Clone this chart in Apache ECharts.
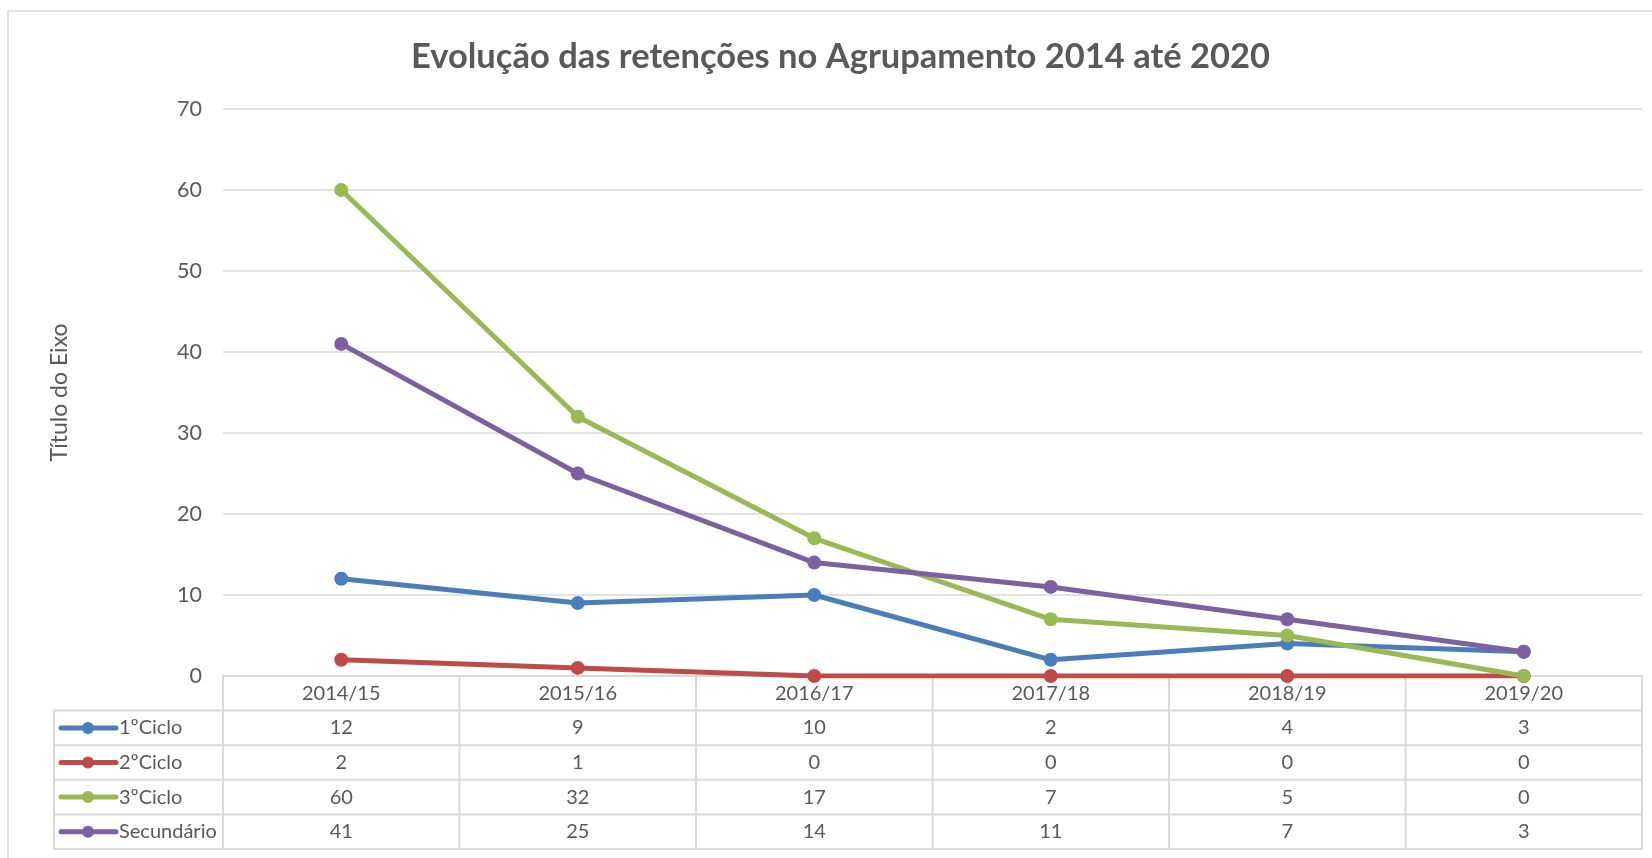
<!DOCTYPE html>
<html>
<head>
<meta charset="utf-8">
<script src="https://cdn.jsdelivr.net/npm/echarts@6/dist/echarts.min.js"></script>
<style>
html,body{margin:0;padding:0;background:#fff;}
#chart{width:1652px;height:858px;}
</style>
</head>
<body>
<div id="chart"></div>
<script>
const titleText = 'Evolução das retenções no Agrupamento 2014 até 2020';
const axisTitle = 'Título do Eixo';
const categories = ['2014/15', '2015/16', '2016/17', '2017/18', '2018/19', '2019/20'];
const seriesNames = ['1ºCiclo', '2ºCiclo', '3ºCiclo', 'Secundário'];
const ciclo1 = [12, 9, 10, 2, 4, 3];
const ciclo2 = [2, 1, 0, 0, 0, 0];
const ciclo3 = [60, 32, 17, 7, 5, 0];
const secundario = [41, 25, 14, 11, 7, 3];
const yMin = 0, yMax = 70, yStep = 10;
const colors = ['#4A7EBB', '#BE4B48', '#98B954', '#7D60A0'];

const seriesValues = [ciclo1, ciclo2, ciclo3, secundario];
const FONT = 'Lato, "Open Sans", sans-serif';
const TXT = '#595959';
const GRID = '#D9D9D9';

const chart = echarts.init(document.getElementById('chart'));
chart.setOption({
  animation: false,
  backgroundColor: '#fff',
  textStyle: { fontFamily: FONT },
  title: {
    text: titleText, left: 406, top: 34,
    textStyle: { fontFamily: FONT, fontSize: 34.5, fontWeight: 'bold', color: TXT }
  },
  grid: { left: 223, right: 10, top: 109, bottom: 182, containLabel: false },
  xAxis: {
    type: 'category', data: categories, boundaryGap: true,
    axisLine: { show: true, lineStyle: { color: GRID, width: 2 } },
    axisTick: { show: false },
    axisLabel: { color: TXT, fontSize: 20, fontFamily: FONT, margin: 8, lineHeight: 20, verticalAlign: 'top' }
  },
  yAxis: {
    type: 'value', min: yMin, max: yMax, interval: yStep,
    name: axisTitle, nameLocation: 'middle', nameRotate: 90, nameGap: 152,
    nameTextStyle: { color: TXT, fontSize: 23, fontFamily: FONT },
    axisLine: { show: false }, axisTick: { show: false },
    axisLabel: { color: TXT, fontSize: 21.5, fontFamily: FONT, margin: 21 },
    splitLine: { lineStyle: { color: GRID, width: 1.5 } }
  },
  series: seriesNames.map((n, i) => ({
    name: n, type: 'line', data: seriesValues[i],
    symbol: 'circle', symbolSize: 14,
    lineStyle: { color: colors[i], width: 5 },
    itemStyle: { color: colors[i] },
    z: 2 + i
  }))
});

// Build data table beneath the plot from the axes' scale
const xs = categories.map((c, i) => chart.convertToPixel({ xAxisIndex: 0 }, i));
const band = xs.length > 1 ? xs[1] - xs[0] : 100;
const xLeft = xs[0] - band / 2;
const xRight = xs[xs.length - 1] + band / 2;
const y0 = chart.convertToPixel({ yAxisIndex: 0 }, yMin);
const rowH = 34.6;
const legendLeft = 54;
const headerBottom = y0 + rowH;
const tableBottom = headerBottom + rowH * seriesNames.length;
const els = [];
const ls = { stroke: GRID, lineWidth: 2 };
// outer frame
els.push({ type: 'rect', shape: { x: 8, y: 11, width: 1700, height: 900 }, style: { fill: null, stroke: GRID, lineWidth: 1.5 }, silent: true, z: 0 });
// vertical lines in table
for (let i = 0; i <= categories.length; i++) {
  const x = xLeft + band * i;
  els.push({ type: 'line', shape: { x1: x, y1: y0, x2: x, y2: tableBottom }, style: ls, z: 1 });
}
els.push({ type: 'line', shape: { x1: legendLeft, y1: headerBottom, x2: legendLeft, y2: tableBottom }, style: ls, z: 1 });
// horizontal lines
for (let r = 0; r <= seriesNames.length; r++) {
  const y = headerBottom + rowH * r;
  els.push({ type: 'line', shape: { x1: legendLeft, y1: y, x2: xRight, y2: y }, style: ls, z: 1 });
}
// rows
seriesNames.forEach((n, r) => {
  const cy = headerBottom + rowH * (r + 0.5);
  els.push({ type: 'line', shape: { x1: legendLeft + 7, y1: cy, x2: legendLeft + 62, y2: cy }, style: { stroke: colors[r], lineWidth: 5, lineCap: 'round' }, z: 3 });
  els.push({ type: 'circle', shape: { cx: legendLeft + 34, cy: cy, r: 6 }, style: { fill: colors[r] }, z: 4 });
  els.push({ type: 'text', x: legendLeft + 65, y: cy, style: { text: n, fill: TXT, font: '20px ' + FONT, textAlign: 'left', textVerticalAlign: 'middle' }, z: 3 });
  seriesValues[r].forEach((v, i) => {
    els.push({ type: 'text', x: xs[i], y: cy, style: { text: String(v), fill: TXT, font: '20px ' + FONT, textAlign: 'center', textVerticalAlign: 'middle' }, z: 3 });
  });
});
chart.setOption({ graphic: { elements: els } });
</script>
</body>
</html>
